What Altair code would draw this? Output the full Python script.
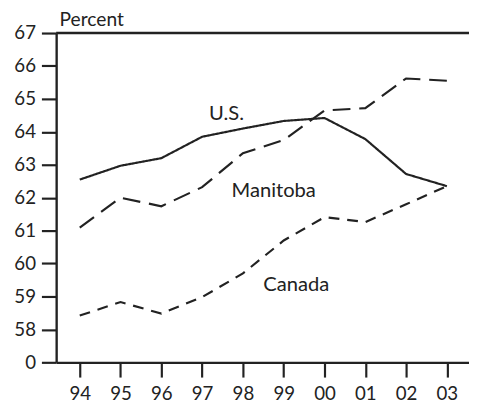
import altair as alt
import pandas as pd

years = ["94", "95", "96", "97", "98", "99", "00", "01", "02", "03"]
us = [62.55, 62.97, 63.2, 63.85, 64.1, 64.33, 64.42, 63.78, 62.72, 62.35]
manitoba = [61.09, 62.0, 61.74, 62.32, 63.35, 63.75, 64.65, 64.72, 65.62, 65.55]
canada = [58.42, 58.83, 58.48, 58.98, 59.7, 60.7, 61.41, 61.26, 61.8, 62.35]

series_names = ["U.S.", "Manitoba", "Canada"]
label_x = [3.17, 3.72, 4.5]
label_y = [64.55, 62.2, 59.36]

rows = []
for name, vals in zip(series_names, [us, manitoba, canada]):
    for i, (yr, v) in enumerate(zip(years, vals)):
        rows.append({"idx": i, "year": yr, "value": v, "series": name})
df = pd.DataFrame(rows)
labels_df = pd.DataFrame({"series": series_names, "lx": label_x, "ly": label_y})

FONT = "Lato"
INK = "#222222"

xscale = alt.Scale(domain=[-0.578, 9.542], nice=False, zero=False)
yscale = alt.Scale(domain=[57, 67], nice=False, zero=False)

year_expr = "[" + ",".join(f"'{y}'" for y in years) + "][datum.value]"

x_axis = alt.Axis(
    values=list(range(10)), labelExpr=year_expr, title=None, grid=False,
    tickSize=15, tickWidth=2.2, tickColor=INK, domainColor=INK, domainWidth=2.4,
    labelFont=FONT, labelFontSize=19, labelColor=INK, labelPadding=8,
    labelOverlap=False, labelFlush=False,
)
y_axis = alt.Axis(
    values=list(range(57, 68)), labelExpr="datum.value == 57 ? '0' : datum.label",
    title="Percent", titleAngle=0, titleX=3, titleY=-8, titleAlign="left",
    titleBaseline="alphabetic", titleFont=FONT, titleFontSize=19.5,
    titleFontWeight="normal", titleColor=INK, grid=False,
    tickSize=15, tickWidth=2.2, tickColor=INK, domainColor=INK, domainWidth=2.4,
    labelFont=FONT, labelFontSize=19, labelColor=INK, labelPadding=6,
    labelOverlap=False, labelFlush=False,
)

lines = alt.Chart(df).mark_line(strokeWidth=2.2, color=INK).encode(
    x=alt.X("idx:Q", scale=xscale, axis=x_axis),
    y=alt.Y("value:Q", scale=yscale, axis=y_axis),
    detail="series:N",
    strokeDash=alt.StrokeDash(
        "series:N",
        scale=alt.Scale(domain=series_names, range=[[1, 0], [18, 9], [11, 8]]),
        legend=None,
    ),
)

top = alt.Chart(pd.DataFrame({"v": [67]})).mark_rule(color=INK, strokeWidth=2.4).encode(
    y=alt.Y("v:Q", scale=yscale, axis=y_axis)
)

texts = alt.Chart(labels_df).mark_text(
    align="left", baseline="middle", font=FONT, fontSize=20.5, color=INK
).encode(
    x=alt.X("lx:Q", scale=xscale, axis=x_axis),
    y=alt.Y("ly:Q", scale=yscale, axis=y_axis),
    text="series:N",
)

chart = alt.layer(lines, top, texts).properties(
    width=420, height=335,
    autosize=alt.AutoSizeParams(type="none"),
    padding={"left": 49, "top": 22, "right": 0, "bottom": 44},
).configure_view(stroke=None).configure_axis(labelOverlap=False)

chart.save("out.html", embed_options={"renderer": "svg", "actions": False})
